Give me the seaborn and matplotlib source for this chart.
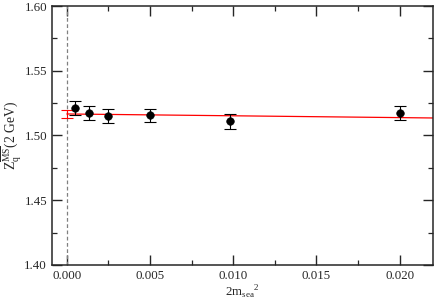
import numpy as np
import pandas as pd
import matplotlib
matplotlib.use("Agg")
import matplotlib.pyplot as plt
import seaborn as sns

# data
mass_sq = [0.00048, 0.00132, 0.0025, 0.005, 0.0098, 0.020]
zq = [1.5215, 1.5172, 1.5148, 1.5155, 1.5108, 1.5172]
zq_err = [0.0055, 0.0055, 0.0055, 0.005, 0.0055, 0.0055]

fit_x = [0.0, 0.022]
fit_y = [1.5166, 1.5135]
chiral_val = 1.5166
chiral_err = 0.003

sns.set_style("ticks")
plt.rcParams['font.family'] = ['Liberation Serif', 'DejaVu Serif']
plt.rcParams['mathtext.fontset'] = 'custom'
plt.rcParams['mathtext.rm'] = 'Liberation Serif'

df = pd.DataFrame({"m": mass_sq, "z": zq, "err": zq_err})
fit_df = pd.DataFrame({"m": fit_x, "z": fit_y})

fig, ax = plt.subplots(figsize=(4.36, 3.01), dpi=100)
fig.subplots_adjust(left=0.119, right=0.993, top=0.98, bottom=0.12)

ax.axvline(0.0, color="gray", linestyle="--", linewidth=0.9, dashes=(3, 2))
sns.lineplot(data=fit_df, x="m", y="z", color="red", linewidth=0.9, ax=ax)
ax.errorbar([0.0], [chiral_val], yerr=[chiral_err], fmt="none", ecolor="red",
            elinewidth=0.8, capsize=4, capthick=0.8)
ax.errorbar(df["m"], df["z"], yerr=df["err"], fmt="none", ecolor="black",
            elinewidth=0.8, capsize=4, capthick=0.8)
sns.scatterplot(data=df, x="m", y="z", color="black", s=30, edgecolor="black",
                zorder=5, ax=ax)

ax.set_xlim(-0.0009, 0.022)
ax.set_ylim(1.40, 1.60)
ax.set_xticks([0.0, 0.005, 0.010, 0.015, 0.020])
ax.set_xticklabels(["0.000", "0.005", "0.010", "0.015", "0.020"])
ax.set_yticks([1.40, 1.45, 1.50, 1.55, 1.60])
ax.set_yticklabels(["1.40", "1.45", "1.50", "1.55", "1.60"])
ax.set_xticks([0.0025, 0.0075, 0.0125, 0.0175], minor=True)
ax.set_yticks([1.425, 1.475, 1.525, 1.575], minor=True)
ax.tick_params(which="both", direction="in", top=True, right=True, labelsize=9.3)
ax.tick_params(which="major", length=7, width=1.0)
ax.tick_params(which="minor", length=3.5, width=0.9)
for sp in ax.spines.values():
    sp.set_linewidth(1.1)

ax.set_xlabel(r"2m$_{\rm sea}$$^2$", fontsize=9.3, labelpad=1)
ax.set_ylabel(r"Z$_{\rm q}^{\overline{\rm MS}}$(2 GeV)", fontsize=9.8, labelpad=0)

fig.savefig("out.png", dpi=100)
